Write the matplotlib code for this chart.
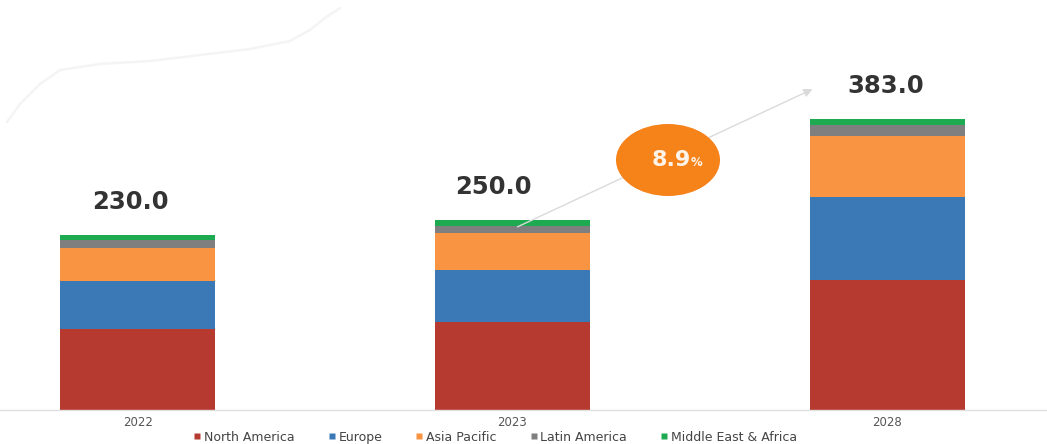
import matplotlib
matplotlib.use("Agg")
import matplotlib.pyplot as plt
from matplotlib.lines import Line2D
from matplotlib.patches import Ellipse, FancyArrowPatch
import numpy as np

# Market size by region (USD billion)
years = ["2022", "2023", "2028"]
regions = ["North America", "Europe", "Asia Pacific", "Latin America", "Middle East & Africa"]
north_america = [106.5, 116.0, 171.0]
europe = [64.0, 68.0, 110.0]
asia_pacific = [43.5, 49.0, 80.0]
latin_america = [9.3, 9.5, 15.0]
middle_east_africa = [6.7, 7.5, 7.0]
totals = [230.0, 250.0, 383.0]
cagr_text = "8.9"

series = [north_america, europe, asia_pacific, latin_america, middle_east_africa]
colors = ["#b63a30", "#3a78b6", "#f99442", "#7f7f7f", "#1eaa50"]

W, H = 1047, 444
fig = plt.figure(figsize=(W / 100, H / 100), dpi=100)
fig.patch.set_facecolor("white")

# axes spans full width; baseline sits 34 px above the bottom edge
ax = fig.add_axes([0, 34 / H, 1, 1 - 34 / H])
ax.set_facecolor("none")

x = np.arange(len(years))
bottom = np.zeros(len(years))
for vals, col, name in zip(series, colors, regions):
    ax.bar(x, vals, width=0.414, bottom=bottom, color=col, label=name, linewidth=0)
    bottom += np.array(vals)

ax.set_xlim(-0.368, 2.427)
ax.set_ylim(0, 540)

for spine in ["top", "right", "left"]:
    ax.spines[spine].set_visible(False)
ax.spines["bottom"].set_color("#e0e0e0")
ax.spines["bottom"].set_linewidth(1.0)
ax.set_yticks([])
ax.set_xticks(x)
ax.set_xticklabels(years, fontsize=8.5, color="#555555", family="DejaVu Sans")
ax.tick_params(axis="x", length=0, pad=4)

# total labels above each bar
label_dx = [-7, -19, -1]
for xi, tot, dx in zip(x, totals, label_dx):
    ax.annotate(f"{tot:.1f}", xy=(xi, tot), xytext=(dx, 21), textcoords="offset pixels",
                ha="center", va="bottom", fontsize=17.5, fontweight="bold",
                color="#333333", family="DejaVu Sans")

# faint decorative swoosh in the upper-left corner
sx = np.array([7, 20, 40, 60, 100, 150, 200, 250, 290, 310, 325, 340])
sy = np.array([122, 104, 84, 70, 64, 61, 55, 49, 41, 30, 18, 8])
fig.add_artist(Line2D(sx / W, 1 - sy / H, transform=fig.transFigure,
                      color="#f4f4f4", lw=1.8, solid_capstyle="round"))

# growth arrow between 2023 and 2028
arrow = FancyArrowPatch((515 / W, 1 - 228 / H), (815 / W, 1 - 88 / H),
                        transform=fig.transFigure, arrowstyle="-|>,head_length=5,head_width=2.5",
                        color="#dadada", lw=1.0, mutation_scale=1)
fig.add_artist(arrow)

# CAGR badge
cx, cy = 668, 160
badge = Ellipse((cx / W, 1 - cy / H), 104 / W, 72 / H, transform=fig.transFigure,
                facecolor="#f6821a", edgecolor="none")
fig.add_artist(badge)
fig.text(691 / W, 1 - cy / H, cagr_text, ha="right", va="center", fontsize=16,
         fontweight="bold", color="#fdf3e8", family="DejaVu Sans")
fig.text(691 / W, 1 - (cy + 2) / H, "%", ha="left", va="center", fontsize=8.5,
         fontweight="bold", color="#fdf3e8", family="DejaVu Sans")

# legend along the bottom edge
handles = [Line2D([0], [0], marker="s", color="none", markerfacecolor=c,
                  markeredgecolor="none", markersize=4.5) for c in colors]
fig.legend(handles, regions, loc="center", bbox_to_anchor=(495 / W, 1 - 437 / H),
           ncol=5, frameon=False, handlelength=0.7, handletextpad=0.2,
           columnspacing=2.6, labelcolor="#444444", prop={"family": "DejaVu Sans", "size": 9})

fig.savefig("out.png", dpi=100, facecolor="white")
